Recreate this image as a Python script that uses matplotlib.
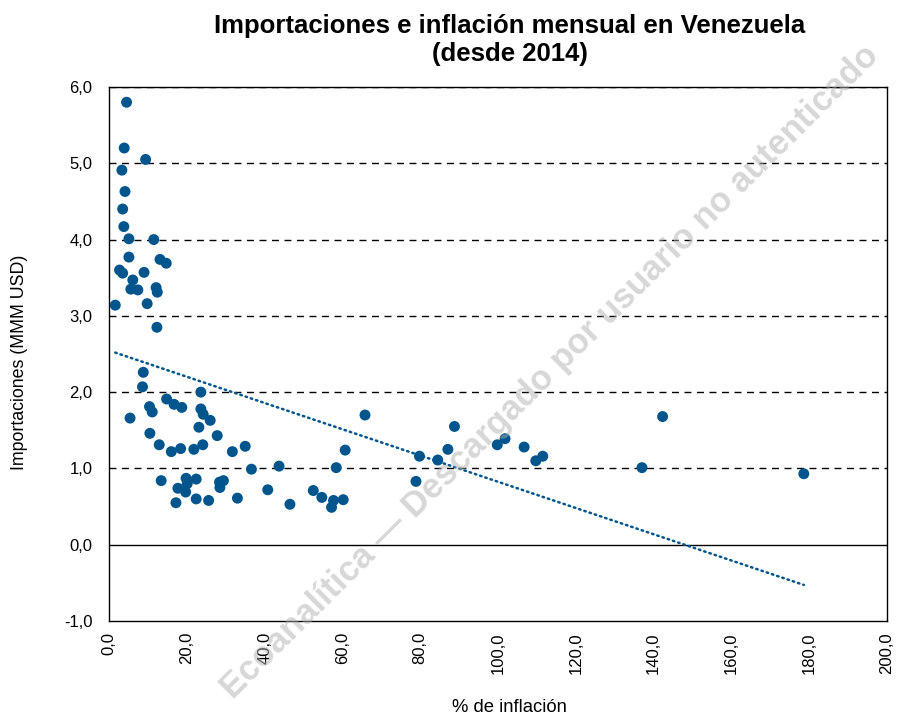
import numpy as np
import matplotlib
matplotlib.use("Agg")
import matplotlib.pyplot as plt
from matplotlib.ticker import FuncFormatter

# inflación mensual (%) e importaciones (MMM USD)
inflacion = [4.5, 3.9, 9.4, 3.3, 4.1, 3.5, 3.8, 5.1, 11.5, 5.1, 13.1, 14.7,
             2.7, 3.5, 9.0, 6.1, 5.6, 7.4, 12.1, 12.4, 1.6, 9.8, 12.3,
             8.8, 8.6, 23.6, 14.8, 10.4, 11.1, 16.7, 18.7, 23.6, 24.2, 26.0,
             5.4, 23.1, 10.5, 27.8, 12.9, 24.1, 35.0, 16.0, 18.4, 21.8, 31.7,
             36.6, 43.7, 13.4, 19.8, 22.4, 17.7, 20.1, 19.7, 28.4, 29.4, 28.5,
             40.8, 17.2, 22.4, 25.6, 33.0, 46.5,
             65.8, 60.7, 58.4, 52.5, 54.7, 57.7, 57.2, 60.2,
             88.8, 79.8, 84.5, 87.1, 78.9, 99.8, 101.8, 106.7, 109.7, 111.5,
             142.3, 137.0, 178.6]
importaciones = [5.80, 5.20, 5.05, 4.91, 4.63, 4.40, 4.17, 4.01, 4.00, 3.77, 3.74, 3.69,
                 3.60, 3.56, 3.57, 3.47, 3.35, 3.34, 3.37, 3.31, 3.14, 3.16, 2.85,
                 2.26, 2.07, 2.00, 1.91, 1.81, 1.74, 1.84, 1.80, 1.78, 1.71, 1.63,
                 1.66, 1.54, 1.46, 1.43, 1.31, 1.31, 1.29, 1.22, 1.26, 1.25, 1.22,
                 0.99, 1.03, 0.84, 0.87, 0.86, 0.74, 0.80, 0.69, 0.82, 0.84, 0.75,
                 0.72, 0.55, 0.60, 0.58, 0.61, 0.53,
                 1.70, 1.24, 1.01, 0.71, 0.62, 0.58, 0.49, 0.59,
                 1.55, 1.16, 1.11, 1.25, 0.83, 1.31, 1.39, 1.28, 1.10, 1.16,
                 1.68, 1.01, 0.93]

x_ticks = np.arange(0, 201, 20)
y_ticks = np.arange(-1, 7, 1)

azul = "#00568c"
plt.rcParams['font.family'] = ['Liberation Sans', 'DejaVu Sans']

fig = plt.figure(figsize=(8.99, 7.16), dpi=100)
ax = fig.add_axes([0.1213, 0.1327, 0.8654, 0.7458])

for y in y_ticks[2:]:
    ax.axhline(y, color="black", lw=1, ls=(0, (5, 4)), zorder=1)
ax.axhline(0, color="black", lw=1, zorder=1)

ax.scatter(inflacion, importaciones, s=62, color=azul, edgecolors="none", zorder=3)

# línea de tendencia lineal
a, b = np.polyfit(inflacion, importaciones, 1)
xt = np.array([min(inflacion), max(inflacion)])
ax.plot(xt, a * xt + b, color=azul, lw=1.8, ls=(0, (0.6, 1.6)),
        dash_capstyle="round", zorder=2)

ax.set_xlim(0, 200)
ax.set_ylim(-1, 6)
ax.set_xticks(x_ticks)
ax.set_yticks(y_ticks)
fmt = FuncFormatter(lambda v, p: f"{v:.1f}".replace(".", ","))
ax.xaxis.set_major_formatter(fmt)
ax.yaxis.set_major_formatter(fmt)
ax.tick_params(axis="x", labelrotation=90, length=0, pad=8, labelsize=12)
ax.tick_params(axis="y", length=0, pad=12, labelsize=12)
for s in ax.spines.values():
    s.set_color("black")
    s.set_linewidth(1)

fig.text(509 / 899, 1 - 708 / 716, "% de inflación", fontsize=13.3,
         ha="center", va="center")
fig.text(20 / 899, 1 - 362 / 716, "Importaciones (MMM USD)", fontsize=12.8,
         rotation=90, ha="center", va="center")
fig.text(510 / 899, 1 - 14 / 716,
         "Importaciones e inflación mensual en Venezuela\n(desde 2014)",
         fontsize=18.5, fontweight="bold", ha="center", va="top", linespacing=1.2)

fig.text(0.612, 0.48, "Ecoanalítica — Descargado por usuario no autenticado",
         fontsize=25, fontweight="bold", color="#b0b0b0", alpha=0.5,
         rotation=44.8, ha="center", va="center", zorder=10)

fig.savefig("out.png", dpi=100)
